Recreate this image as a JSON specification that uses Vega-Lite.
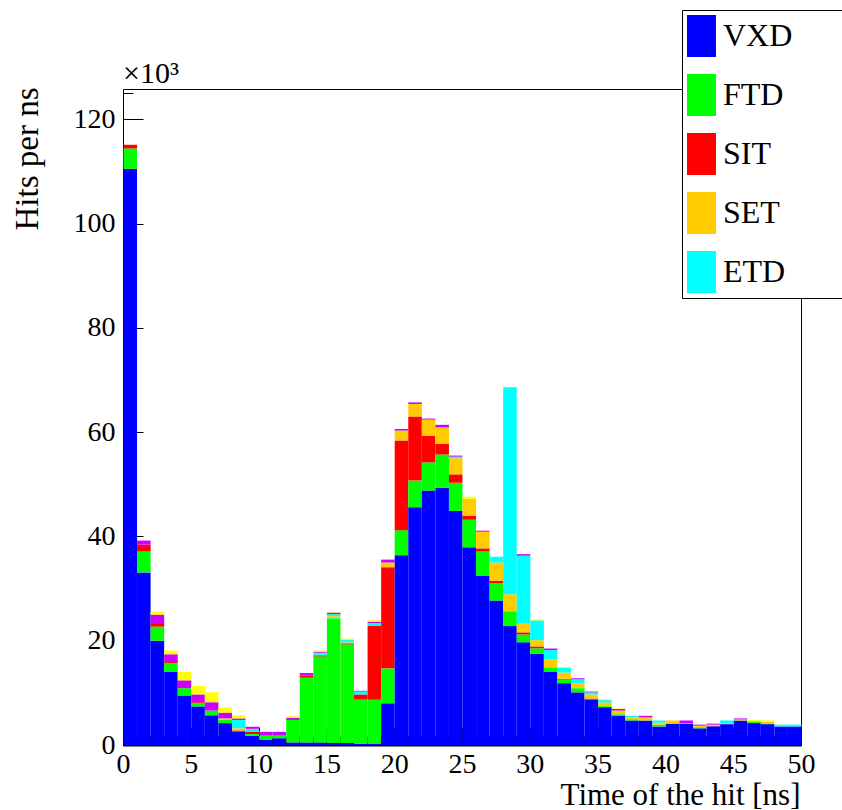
{
  "$schema": "https://vega.github.io/schema/vega-lite/v6.json",
  "width": 678,
  "height": 656,
  "autosize": {"type": "none"},
  "padding": {"left": 123, "top": 89, "right": 41, "bottom": 65},
  "background": "white",
  "title": {"text": "×10³", "anchor": "start", "frame": "group", "font": "Liberation Serif", "fontSize": 30, "fontWeight": "normal", "baseline": "alphabetic", "offset": 5, "dy": 108, "color": "black"},
  "datasets": {
    "ord": [
      {"d": "VXD", "k": 1}, {"d": "FTD", "k": 2}, {"d": "SIT", "k": 3}, {"d": "SET", "k": 4},
      {"d": "ETD", "k": 5}, {"d": "M", "k": 6}, {"d": "Y", "k": 7}
    ]
  },
  "data": {"values": [
    {"t0": 0, "t1": 1, "VXD": 110.5, "FTD": 3.9, "SIT": 0.7},
    {"t0": 1, "t1": 2, "VXD": 33.1, "FTD": 4.0, "SIT": 1.3, "M": 0.8},
    {"t0": 2, "t1": 3, "VXD": 20.0, "FTD": 2.7, "SIT": 0.5, "M": 1.8, "Y": 0.6},
    {"t0": 3, "t1": 4, "VXD": 14.0, "FTD": 1.7, "SIT": 0.2, "M": 1.5, "Y": 0.7},
    {"t0": 4, "t1": 5, "VXD": 9.5, "FTD": 1.4, "M": 1.5, "Y": 1.6},
    {"t0": 5, "t1": 6, "VXD": 7.4, "FTD": 0.6, "SIT": 0.2, "M": 1.5, "Y": 1.6},
    {"t0": 6, "t1": 7, "VXD": 5.7, "FTD": 0.9, "M": 1.6, "Y": 1.9},
    {"t0": 7, "t1": 8, "VXD": 4.2, "FTD": 0.7, "SET": 0.2, "M": 1.1, "Y": 1.0},
    {"t0": 8, "t1": 9, "VXD": 2.6, "SIT": 0.2, "SET": 0.4, "ETD": 1.6, "M": 0.3, "Y": 0.6},
    {"t0": 9, "t1": 10, "VXD": 1.8, "FTD": 0.3, "SIT": 0.4, "ETD": 0.6, "M": 0.4},
    {"t0": 10, "t1": 11, "VXD": 1.05, "FTD": 0.75, "M": 0.7, "Y": 0.1},
    {"t0": 11, "t1": 12, "VXD": 1.3, "FTD": 0.5, "M": 0.7, "Y": 0.1},
    {"t0": 12, "t1": 13, "VXD": 0.5, "FTD": 4.3, "M": 0.4, "Y": 0.3},
    {"t0": 13, "t1": 14, "VXD": 0.5, "FTD": 12.4, "SIT": 0.4, "M": 0.5},
    {"t0": 14, "t1": 15, "VXD": 0.5, "FTD": 16.5, "SIT": 0.2, "SET": 0.1, "ETD": 0.4, "M": 0.2, "Y": 0.2},
    {"t0": 15, "t1": 16, "VXD": 0.4, "FTD": 23.9, "SET": 0.4, "ETD": 0.4, "M": 0.3, "Y": 0.1},
    {"t0": 16, "t1": 17, "VXD": 0.4, "FTD": 18.9, "SIT": 0.2, "SET": 0.2, "ETD": 0.5, "Y": 0.2},
    {"t0": 17, "t1": 18, "VXD": 0.2, "FTD": 8.5, "SIT": 1.0, "ETD": 0.55, "M": 0.15},
    {"t0": 18, "t1": 19, "VXD": 0.3, "FTD": 8.4, "SIT": 14.1, "ETD": 0.6, "M": 0.2, "Y": 0.3},
    {"t0": 19, "t1": 20, "VXD": 8.0, "FTD": 6.7, "SIT": 19.4, "SET": 0.9, "M": 0.55},
    {"t0": 20, "t1": 21, "VXD": 36.4, "FTD": 4.8, "SIT": 17.2, "SET": 1.9, "M": 0.3},
    {"t0": 21, "t1": 22, "VXD": 45.6, "FTD": 5.1, "SIT": 12.3, "SET": 2.4, "M": 0.3},
    {"t0": 22, "t1": 23, "VXD": 48.8, "FTD": 5.4, "SIT": 5.1, "SET": 3.1, "M": 0.2},
    {"t0": 23, "t1": 24, "VXD": 49.3, "FTD": 6.4, "SIT": 2.1, "SET": 3.1, "M": 0.5},
    {"t0": 24, "t1": 25, "VXD": 44.9, "FTD": 5.4, "SIT": 1.6, "SET": 3.1, "ETD": 0.3, "M": 0.2},
    {"t0": 25, "t1": 26, "VXD": 37.9, "FTD": 5.3, "SIT": 0.8, "SET": 3.2, "Y": 0.4},
    {"t0": 26, "t1": 27, "VXD": 32.5, "FTD": 4.6, "SIT": 0.6, "SET": 3.2, "M": 0.2},
    {"t0": 27, "t1": 28, "VXD": 27.7, "FTD": 3.3, "SIT": 0.5, "SET": 3.5, "ETD": 1.1},
    {"t0": 28, "t1": 29, "VXD": 22.8, "FTD": 2.7, "SIT": 0.1, "SET": 3.3, "ETD": 39.7},
    {"t0": 29, "t1": 30, "VXD": 19.7, "FTD": 1.5, "SIT": 0.4, "SET": 1.8, "ETD": 12.9, "M": 0.3},
    {"t0": 30, "t1": 31, "VXD": 17.5, "FTD": 1.05, "SIT": 0.35, "SET": 1.2, "ETD": 3.8, "Y": 0.2},
    {"t0": 31, "t1": 32, "VXD": 14.0, "FTD": 0.9, "SET": 1.5, "ETD": 1.8, "M": 0.3},
    {"t0": 32, "t1": 33, "VXD": 11.85, "FTD": 0.7, "SIT": 0.15, "SET": 1.2, "ETD": 0.95, "Y": 0.15},
    {"t0": 33, "t1": 34, "VXD": 10.1, "FTD": 0.8, "SET": 0.9, "ETD": 0.8, "M": 0.2},
    {"t0": 34, "t1": 35, "VXD": 8.7, "SIT": 0.2, "SET": 0.8, "ETD": 0.4, "M": 0.15},
    {"t0": 35, "t1": 36, "VXD": 7.25, "FTD": 0.2, "SET": 0.7, "ETD": 0.45, "Y": 0.2},
    {"t0": 36, "t1": 37, "VXD": 5.65, "FTD": 0.25, "SET": 0.7, "M": 0.3, "Y": 0.1},
    {"t0": 37, "t1": 38, "VXD": 4.7, "FTD": 0.25, "SET": 0.3, "ETD": 0.35},
    {"t0": 38, "t1": 39, "VXD": 4.7, "SET": 0.6, "M": 0.3},
    {"t0": 39, "t1": 40, "VXD": 3.55, "FTD": 0.35, "SET": 0.4, "ETD": 0.4},
    {"t0": 40, "t1": 41, "VXD": 4.05, "FTD": 0.1, "SET": 0.55},
    {"t0": 41, "t1": 42, "VXD": 4.05, "FTD": 0.15, "M": 0.5},
    {"t0": 42, "t1": 43, "VXD": 3.2, "FTD": 0.2, "SET": 0.3, "M": 0.2},
    {"t0": 43, "t1": 44, "VXD": 3.6, "SET": 0.3, "M": 0.2},
    {"t0": 44, "t1": 45, "VXD": 4.0, "SET": 0.2, "ETD": 0.5},
    {"t0": 45, "t1": 46, "VXD": 4.7, "SET": 0.2, "M": 0.2},
    {"t0": 46, "t1": 47, "VXD": 4.2, "FTD": 0.2, "SET": 0.25, "Y": 0.15},
    {"t0": 47, "t1": 48, "VXD": 4.0, "FTD": 0.15, "SET": 0.35, "Y": 0.2},
    {"t0": 48, "t1": 49, "VXD": 3.55, "ETD": 0.35},
    {"t0": 49, "t1": 50, "VXD": 3.55, "ETD": 0.35}
  ]},
  "transform": [
    {"fold": ["VXD", "FTD", "SIT", "SET", "ETD", "M", "Y"], "as": ["d", "v"]},
    {"filter": "isValid(datum.v)"},
    {"lookup": "d", "from": {"data": {"name": "ord"}, "key": "d", "fields": ["k"]}}
  ],
  "mark": {"type": "bar", "strokeWidth": 0, "binSpacing": 0},
  "encoding": {
    "x": {
      "field": "t0", "type": "quantitative",
      "bin": {"binned": true, "step": 1},
      "scale": {"domain": [0, 50], "nice": false, "zero": false},
      "axis": {
        "values": [0,1,2,3,4,5,6,7,8,9,10,11,12,13,14,15,16,17,18,19,20,21,22,23,24,25,26,27,28,29,30,31,32,33,34,35,36,37,38,39,40,41,42,43,44,45,46,47,48,49,50],
        "labelExpr": "datum.value % 5 === 0 ? datum.label : ''",
        "tickSize": {"condition": {"test": "datum.value % 5 === 0", "value": -18}, "value": -9},
        "labelPadding": 45,
        "labelBaseline": "alphabetic",
        "labelFontSize": 28,
        "labelFlush": false,
        "labelOverlap": false,
        "domainWidth": 2,
        "title": "Time of the hit [ns]",
        "titleFontSize": 31,
        "titleAlign": "right",
        "titleAnchor": "end",
        "titleBaseline": "alphabetic",
        "titleX": 677,
        "titleY": 59
      }
    },
    "x2": {"field": "t1"},
    "y": {
      "field": "v", "type": "quantitative", "stack": "zero",
      "scale": {"domain": [0, 125.8], "nice": false},
      "axis": {
        "values": [0,5,10,15,20,25,30,35,40,45,50,55,60,65,70,75,80,85,90,95,100,105,110,115,120,125],
        "labelExpr": "datum.value % 20 === 0 ? datum.label : ''",
        "tickSize": {"condition": {"test": "datum.value % 20 === 0", "value": -20}, "value": -10},
        "labelPadding": 28,
        "labelFontSize": 28,
        "labelFlush": false,
        "labelOverlap": false,
        "title": "Hits per ns",
        "titleFontSize": 33,
        "titleAngle": 270,
        "titleAlign": "right",
        "titleAnchor": "end",
        "titleBaseline": "alphabetic",
        "titleX": -86,
        "titleY": -2
      }
    },
    "color": {
      "field": "d", "type": "nominal",
      "scale": {
        "domain": ["VXD", "FTD", "SIT", "SET", "ETD", "M", "Y"],
        "range": ["#0000ff", "#00ff00", "#ff0000", "#ffcc00", "#00ffff", "#cc00ff", "#ffff00"]
      },
      "legend": {
        "values": ["VXD", "FTD", "SIT", "SET", "ETD"],
        "title": "MM",
        "titleOrient": "right",
        "titleFontSize": 12,
        "titleOpacity": 0,
        "titlePadding": 26,
        "orient": "none",
        "legendX": 559,
        "legendY": -79,
        "padding": 5,
        "rowPadding": 17,
        "symbolType": "M-1,-1H0.38V1H-1Z",
        "symbolSize": 1764,
        "symbolStrokeWidth": 0,
        "symbolOpacity": 1,
        "labelOffset": -6,
        "labelFontSize": 32,
        "labelFont": "Liberation Serif",
        "labelLimit": 400,
        "fillColor": "white",
        "strokeColor": "black"
      }
    },
    "order": {"field": "k", "type": "quantitative", "sort": "ascending"}
  },
  "config": {
    "view": {"stroke": "black", "strokeWidth": 1},
    "axis": {
      "grid": false,
      "domainColor": "black",
      "tickColor": "black",
      "labelColor": "black",
      "titleColor": "black",
      "labelFont": "Liberation Serif",
      "titleFont": "Liberation Serif",
      "titleFontWeight": "normal"
    }
  }
}
